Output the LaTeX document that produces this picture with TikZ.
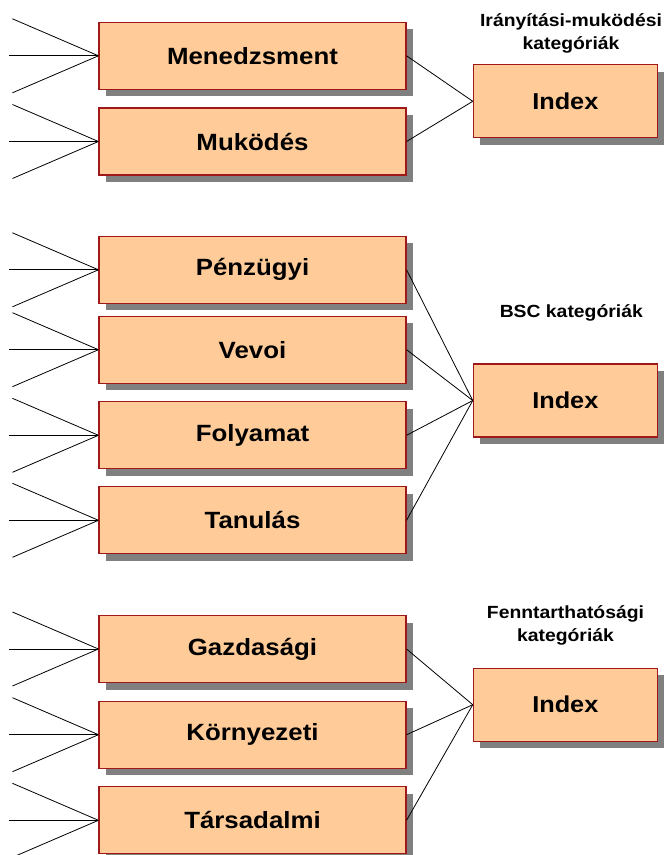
\documentclass[tikz,border=0pt]{standalone}
\usepackage{fontspec}
\setmainfont{Liberation Sans}[FakeStretch=1.1]
\usetikzlibrary{shadows}
\definecolor{boxfill}{HTML}{FFCC99}
\definecolor{boxline}{HTML}{A01818}
\definecolor{shade}{HTML}{808080}
\tikzset{
  catbox/.style={draw=boxline, line width=1.1pt, fill=boxfill, inner sep=0pt,
    minimum width=307pt, minimum height=67pt,
    font=\fontsize{23.5}{27}\selectfont\bfseries,
    drop shadow={shadow xshift=7pt, shadow yshift=-7pt, fill=shade, opacity=1}},
  indexbox/.style={catbox, minimum width=184pt, minimum height=73pt,
    font=\fontsize{23}{27}\selectfont\bfseries},
  title/.style={align=center, font=\fontsize{17.6}{23}\selectfont\bfseries},
  link/.style={draw=black, line width=0.8pt}
}
\begin{document}
\begin{tikzpicture}[x=1pt, y=-1pt]
\useasboundingbox (0,0) rectangle (664,855);

% category boxes
\node[catbox] (men) at (252.5,55.8) {Menedzsment};
\node[catbox] (muk) at (252.5,141.5) {Muködés};
\node[catbox] (pen) at (252.5,269.8) {Pénzügyi};
\node[catbox] (vev) at (252.5,349.7) {Vevoi};
\node[catbox] (fol) at (252.5,435.3) {Folyamat};
\node[catbox] (tan) at (252.5,520.3) {Tanulás};
\node[catbox] (gaz) at (252.5,649.0) {Gazdasági};
\node[catbox] (kor) at (252.5,734.7) {Környezeti};
\node[catbox] (tar) at (252.5,820.3) {Társadalmi};

% index boxes
\node[indexbox] (ix1) at (565.3,101.3) {Index};
\node[indexbox] (ix2) at (565.3,400.5) {Index};
\node[indexbox] (ix3) at (565.3,704.7) {Index};

% group titles
\node[title] (t1) at (571,33.3) {Irányítási-muködési\\kategóriák};
\node[title] (t2) at (571.3,313.3) {BSC kategóriák};
\node[title] (t3) at (565.5,625) {Fenntarthatósági\\kategóriák};

% three incoming lines on the left of every category box
\foreach \n in {men,muk,pen,vev,fol,tan,gaz,kor,tar}{
  \coordinate (\n-up) at ([xshift=-86pt,yshift=37pt]\n.west);
  \coordinate (\n-mid) at ([xshift=-89pt]\n.west);
  \coordinate (\n-dn) at ([xshift=-86pt,yshift=-37pt]\n.west);
  \draw[link] (\n-up) -- (\n.west);
  \draw[link] (\n-mid) -- (\n.west);
  \draw[link] (\n-dn) -- (\n.west);
}

% categories feeding their index
\foreach \n in {men,muk}{\draw[link] (\n.east) -- (ix1.west);}
\foreach \n in {pen,vev,fol,tan}{\draw[link] (\n.east) -- (ix2.west);}
\foreach \n in {gaz,kor,tar}{\draw[link] (\n.east) -- (ix3.west);}
\end{tikzpicture}
\end{document}
